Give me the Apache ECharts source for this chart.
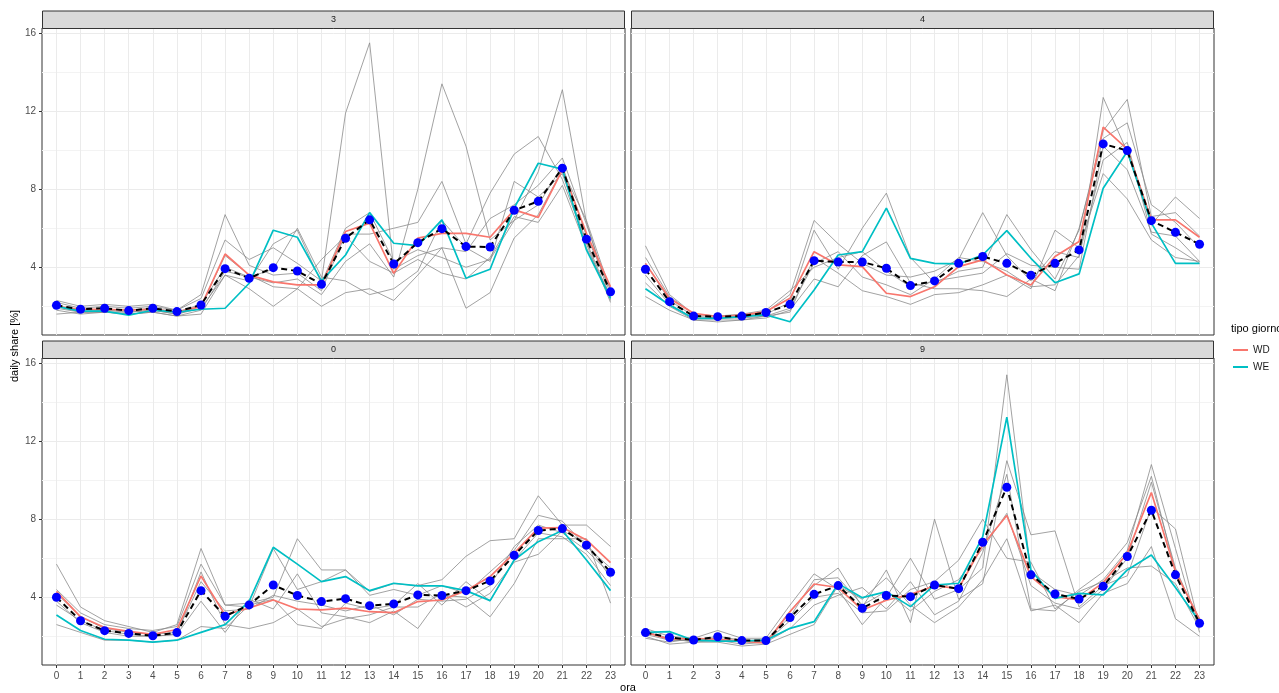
<!DOCTYPE html>
<html>
<head>
<meta charset="utf-8">
<script src="https://cdn.jsdelivr.net/npm/echarts@6/dist/echarts.min.js"></script>
<style>
  html, body { margin: 0; padding: 0; background: #fff; }
  #chart { width: 1279px; height: 693px; }
</style>
</head>
<body>
<div id="chart"></div>
<script>
// hour of day (x ticks) and y gridlines
const hours = [0,1,2,3,4,5,6,7,8,9,10,11,12,13,14,15,16,17,18,19,20,21,22,23];
const yTicks = [4, 8, 12, 16];
const yMinor = [2, 6, 10, 14];
const panelKeys = ['3', '4', '0', '9'];

// ---- cluster 3 ----
const avg3 = [2.05,1.85,1.9,1.78,1.9,1.73,2.07,3.93,3.44,3.98,3.81,3.13,5.49,6.43,4.17,5.26,5.98,5.06,5.04,6.92,7.38,9.08,5.44,2.74];
const wd3  = [2.0,1.85,1.85,1.8,1.85,1.7,2.0,4.68,3.6,3.25,3.1,3.1,5.83,6.26,3.69,5.49,5.74,5.74,5.54,6.94,6.56,8.99,5.74,3.0];
const we3  = [2.0,1.75,1.75,1.55,1.8,1.7,1.85,1.9,3.18,5.9,5.54,3.3,4.63,6.8,5.23,5.11,6.43,3.44,3.9,7.03,9.33,9.03,4.89,2.41];
const days3 = [
  [2.2,1.9,2.0,1.9,2.0,1.8,2.4,5.4,4.4,5.0,4.2,3.3,11.9,15.5,3.9,4.6,5.0,4.8,6.5,7.2,8.2,9.6,6.2,2.6],
  [2.0,1.8,1.8,1.8,1.9,1.7,2.1,4.0,3.5,3.2,3.4,2.6,4.3,5.2,3.5,8.0,13.4,10.2,5.4,6.4,7.2,9.2,5.6,2.9],
  [1.9,1.7,1.7,1.7,1.8,1.6,1.9,3.6,3.3,5.2,5.9,3.2,6.0,6.8,4.3,4.9,4.5,4.0,4.4,6.4,8.9,13.1,6.3,2.3],
  [2.3,2.0,2.1,2.0,2.1,1.8,2.6,6.7,4.1,3.6,3.7,2.8,5.7,5.7,6.0,6.3,8.4,5.2,7.8,9.8,10.7,8.5,5.2,2.2],
  [1.6,1.7,1.7,1.6,1.7,1.5,1.6,3.6,2.9,2.0,2.9,2.0,2.7,2.9,2.3,3.6,5.0,1.9,2.7,5.5,6.7,9.0,6.4,2.8],
  [2.0,1.7,1.8,1.7,1.8,1.6,2.0,4.6,3.6,3.0,2.9,4.4,5.6,4.3,3.7,4.4,3.7,3.4,4.5,6.6,6.3,8.2,5.0,2.5],
  [1.8,1.6,1.7,1.6,1.7,1.5,1.8,3.8,3.5,3.9,6.0,3.5,3.3,2.6,2.9,3.8,6.4,5.0,4.3,8.4,7.6,8.8,5.3,2.4]
];

// ---- cluster 4 ----
const avg4 = [3.9,2.24,1.5,1.47,1.5,1.68,2.1,4.34,4.27,4.27,3.95,3.06,3.3,4.2,4.55,4.2,3.59,4.2,4.89,10.32,9.98,6.39,5.79,5.18];
const wd4  = [4.2,2.4,1.64,1.47,1.55,1.73,2.41,4.8,4.12,4.03,2.67,2.5,3.0,4.03,4.38,3.6,3.09,4.55,5.32,11.18,10.05,6.43,6.43,5.54];
const we4  = [2.9,2.07,1.38,1.38,1.47,1.56,1.21,2.84,4.63,4.8,7.03,4.46,4.2,4.17,4.63,5.88,4.46,3.21,3.66,8.05,9.93,6.26,4.2,4.2];
const days4 = [
  [5.1,2.6,1.6,1.5,1.5,1.7,2.6,6.4,5.2,4.2,3.6,3.5,3.8,4.4,6.8,4.6,3.3,4.8,4.5,12.7,9.9,6.2,7.6,6.5],
  [4.2,2.3,1.5,1.4,1.5,1.6,2.2,5.9,3.9,6.0,7.8,4.5,3.2,3.8,4.0,6.7,4.9,3.4,5.9,11.0,12.6,6.6,6.8,5.6],
  [3.6,2.1,1.4,1.4,1.4,1.5,1.9,4.2,4.8,3.5,3.1,2.6,3.4,4.5,4.3,3.8,3.0,3.1,4.6,9.5,10.4,5.7,5.0,4.2],
  [3.2,2.0,1.3,1.3,1.3,1.4,1.8,3.4,3.0,4.6,5.3,3.2,2.9,2.9,2.8,2.5,3.4,2.8,6.0,10.6,11.4,7.2,6.3,5.0],
  [2.5,1.8,1.3,1.2,1.3,1.5,1.7,4.5,3.7,2.8,2.5,2.1,2.6,2.7,3.1,3.6,2.9,5.9,5.0,8.8,7.5,5.4,4.5,4.3],
  [4.5,2.5,1.6,1.5,1.6,1.8,2.8,4.0,4.5,4.8,3.8,3.0,3.3,3.5,3.7,4.7,4.1,4.0,3.9,10.2,9.0,5.8,5.6,4.3]
];

// ---- cluster 0 ----
const avg0 = [4.0,2.8,2.29,2.15,2.03,2.19,4.34,3.03,3.61,4.63,4.09,3.78,3.93,3.57,3.66,4.12,4.09,4.34,4.84,6.15,7.42,7.52,6.67,5.28];
const wd0  = [4.3,3.0,2.45,2.25,2.1,2.35,5.09,3.1,3.45,3.86,3.4,3.35,3.44,3.26,3.21,3.78,3.86,4.34,5.06,6.26,7.54,7.57,6.94,5.78];
const we0  = [3.09,2.3,1.85,1.8,1.7,1.8,2.2,2.6,3.8,6.56,5.7,4.8,5.06,4.34,4.72,4.58,4.58,4.34,3.83,5.91,6.85,7.42,5.91,4.34];
const days0 = [
  [5.7,3.5,2.8,2.5,2.2,2.6,6.5,3.6,3.7,4.0,7.0,5.4,5.4,4.3,4.7,4.6,4.9,6.1,6.9,7.0,9.2,7.7,7.7,6.6],
  [4.4,3.2,2.6,2.4,2.3,2.5,5.7,3.6,3.5,6.5,4.4,4.8,5.4,4.1,4.4,4.1,4.6,4.2,5.3,6.4,8.2,7.9,6.6,5.5],
  [3.6,2.8,2.3,2.1,2.0,2.1,3.8,2.2,3.9,3.4,5.2,3.2,3.0,2.7,3.3,2.4,4.1,4.0,3.0,4.7,7.0,7.0,7.0,3.7],
  [3.8,2.7,2.2,2.0,2.0,2.1,5.3,2.6,2.4,2.7,3.4,2.5,2.9,3.1,3.5,3.5,4.2,3.5,4.2,5.8,6.2,7.4,6.8,5.0],
  [2.6,2.2,1.8,1.8,1.7,1.8,2.5,2.4,3.6,3.9,2.6,2.4,3.7,3.4,3.6,4.7,3.6,4.8,3.8,5.9,7.3,7.1,6.2,4.6],
  [4.2,3.0,2.4,2.2,2.1,2.2,4.8,3.3,3.4,4.1,3.8,3.6,3.3,3.6,3.1,3.9,3.8,3.9,4.6,6.6,7.7,7.3,6.4,5.2]
];

// ---- cluster 9 ----
const avg9 = [2.19,1.94,1.81,1.98,1.78,1.78,2.96,4.15,4.6,3.44,4.09,4.03,4.63,4.44,6.82,9.64,5.15,4.17,3.91,4.56,6.09,8.46,5.15,2.67];
const wd9  = [2.2,1.85,1.9,1.85,1.75,1.65,3.26,4.68,4.5,3.35,3.85,4.15,4.58,4.46,6.68,8.19,5.06,4.03,3.86,4.75,6.26,9.37,5.32,2.87];
const we9  = [2.2,2.24,1.8,1.75,1.75,1.8,2.41,2.75,4.7,3.98,4.29,3.52,4.63,4.72,7.11,13.23,5.4,3.94,4.2,4.12,5.4,6.17,4.5,2.75];
const days9 = [
  [2.4,2.0,1.9,2.3,1.9,1.9,3.6,5.2,4.4,2.6,4.0,6.0,3.9,4.4,5.5,15.4,5.3,4.4,4.1,4.9,6.4,10.8,6.5,2.2],
  [2.1,1.8,1.8,1.9,1.7,1.7,3.3,4.6,5.5,3.5,5.4,2.7,8.0,3.9,4.7,11.0,7.2,7.4,3.5,4.6,5.1,8.6,7.5,2.5],
  [1.9,1.7,1.9,1.8,1.6,1.7,2.4,3.6,4.1,4.5,3.4,4.8,3.1,3.8,6.3,10.3,3.4,3.3,4.4,5.3,6.8,10.2,5.3,2.9],
  [2.0,1.6,1.7,1.7,1.5,1.6,2.1,2.6,4.6,3.9,5.0,3.6,2.7,3.5,4.9,7.0,3.3,3.6,2.7,4.2,4.7,6.6,2.9,2.0],
  [2.2,1.9,1.7,1.8,1.8,1.7,2.8,4.0,4.2,3.2,3.3,4.4,4.8,5.9,8.0,6.0,5.8,3.4,4.3,4.8,5.5,5.6,4.7,2.4],
  [2.3,1.8,1.8,2.0,1.8,1.8,3.0,4.9,5.0,3.6,4.3,3.3,4.3,4.9,6.5,8.3,4.6,3.7,3.4,4.4,6.0,9.9,5.5,2.7]
];

const panelData = {
  '3': { avg: avg3, wd: wd3, we: we3, days: days3 },
  '4': { avg: avg4, wd: wd4, we: we4, days: days4 },
  '0': { avg: avg0, wd: wd0, we: we0, days: days0 },
  '9': { avg: avg9, wd: wd9, we: we9, days: days9 }
};

// facet layout (2 x 2)
const FONT = "'Liberation Sans', Arial, sans-serif";
const PW = 583, PH = 307, STRIP = 17.5;
const layout = [
  { left: 42,  top: 28,  bottom: false, leftCol: true  },
  { left: 631, top: 28,  bottom: false, leftCol: false },
  { left: 42,  top: 358, bottom: true,  leftCol: true  },
  { left: 631, top: 358, bottom: true,  leftCol: false }
];
const X_MIN = -0.6, X_MAX = 23.6;
const Y_MIN = 0.53, Y_MAX = 16.26;

const pairs = arr => hours.map((h, i) => [h, arr[i]]);

const grids = [], xAxes = [], yAxes = [], series = [], graphics = [];

layout.forEach((L, i) => {
  const key = panelKeys[i];
  const d = panelData[key];

  grids.push({ left: L.left, top: L.top, width: PW, height: PH,
    show: true, borderColor: '#333333', borderWidth: 1, backgroundColor: '#ffffff', containLabel: false });

  xAxes.push({
    gridIndex: i, type: 'value', min: X_MIN, max: X_MAX, position: 'bottom',
    axisLine: { show: false, onZero: false },
    axisTick: { show: L.bottom, customValues: hours, length: 3, lineStyle: { color: '#333333' } },
    axisLabel: { show: L.bottom, customValues: hours, margin: 6, fontSize: 10, color: '#4D4D4D', fontFamily: FONT },
    splitLine: { show: true, lineStyle: { color: '#EBEBEB', width: 1 } }
  });

  // main y axis: labels, ticks, major gridlines
  yAxes.push({
    gridIndex: i, type: 'value', min: Y_MIN, max: Y_MAX, position: 'left',
    axisLine: { show: false, onZero: false },
    axisTick: { show: L.leftCol, customValues: yTicks, length: 3, lineStyle: { color: '#333333' } },
    axisLabel: { show: L.leftCol, customValues: yTicks, margin: 6, fontSize: 10, color: '#4D4D4D', fontFamily: FONT },
    splitLine: { show: true, lineStyle: { color: '#EBEBEB', width: 1 } }
  });
  // companion y axis for the minor gridlines
  yAxes.push({
    gridIndex: i, type: 'value', min: Y_MIN, max: Y_MAX, position: 'right',
    axisLine: { show: false, onZero: false },
    axisTick: { show: false, customValues: yMinor },
    axisLabel: { show: false, customValues: yMinor },
    splitLine: { show: true, lineStyle: { color: '#F3F3F3', width: 1 } }
  });

  const yIdx = 2 * i;

  d.days.forEach(day => {
    series.push({
      type: 'line', xAxisIndex: i, yAxisIndex: yIdx, data: pairs(day),
      symbol: 'none', silent: true, z: 2,
      lineStyle: { color: '#8A8A8A', width: 0.8 }
    });
  });

  series.push({
    name: 'WD', type: 'line', xAxisIndex: i, yAxisIndex: yIdx, data: pairs(d.wd),
    symbol: 'none', z: 3,
    itemStyle: { color: '#F8766D' }, lineStyle: { color: '#F8766D', width: 1.7 }
  });
  series.push({
    name: 'WE', type: 'line', xAxisIndex: i, yAxisIndex: yIdx, data: pairs(d.we),
    symbol: 'none', z: 3,
    itemStyle: { color: '#00BFC4' }, lineStyle: { color: '#00BFC4', width: 1.7 }
  });
  series.push({
    name: 'media', type: 'line', xAxisIndex: i, yAxisIndex: yIdx, data: pairs(d.avg),
    symbol: 'circle', symbolSize: 9, z: 4,
    itemStyle: { color: '#0000FF', borderWidth: 0 },
    lineStyle: { color: '#000000', width: 2, type: [6, 4] }
  });

  // facet strip
  graphics.push({
    type: 'rect', silent: true, z: 10,
    shape: { x: L.left + 0.5, y: L.top - STRIP + 0.5, width: PW - 1, height: STRIP },
    style: { fill: '#D9D9D9', stroke: '#333333', lineWidth: 1 }
  });
  graphics.push({
    type: 'text', silent: true, z: 11,
    style: { text: key, x: L.left + PW / 2, y: L.top - STRIP / 2 + 0.5, align: 'center', verticalAlign: 'middle',
      fontSize: 9, fill: '#1A1A1A', fontFamily: FONT }
  });
});

// axis titles and legend title
graphics.push({
  type: 'text', silent: true,
  style: { text: 'ora', x: 628, y: 688, align: 'center', verticalAlign: 'middle', fontSize: 11, fill: '#000', fontFamily: FONT }
});
graphics.push({
  type: 'text', silent: true, rotation: Math.PI / 2, x: 15, y: 346,
  style: { text: 'daily share [%]', x: 0, y: 0, align: 'center', verticalAlign: 'middle', fontSize: 11, fill: '#000', fontFamily: FONT }
});
graphics.push({
  type: 'text', silent: true,
  style: { text: 'tipo giorno', x: 1231, y: 329, align: 'left', verticalAlign: 'middle', fontSize: 11, fill: '#000', fontFamily: FONT }
});

const chart = echarts.init(document.getElementById('chart'), null, { renderer: 'canvas' });
chart.setOption({
  animation: false,
  backgroundColor: '#ffffff',
  grid: grids,
  xAxis: xAxes,
  yAxis: yAxes,
  legend: {
    data: ['WD', 'WE'],
    orient: 'vertical', left: 1228, top: 339,
    icon: 'rect', itemWidth: 15, itemHeight: 2, itemGap: 5,
    textStyle: { fontSize: 10, color: '#1A1A1A', fontFamily: FONT, lineHeight: 12 },
    selectedMode: false
  },
  series: series,
  graphic: graphics
});
</script>
</body>
</html>
